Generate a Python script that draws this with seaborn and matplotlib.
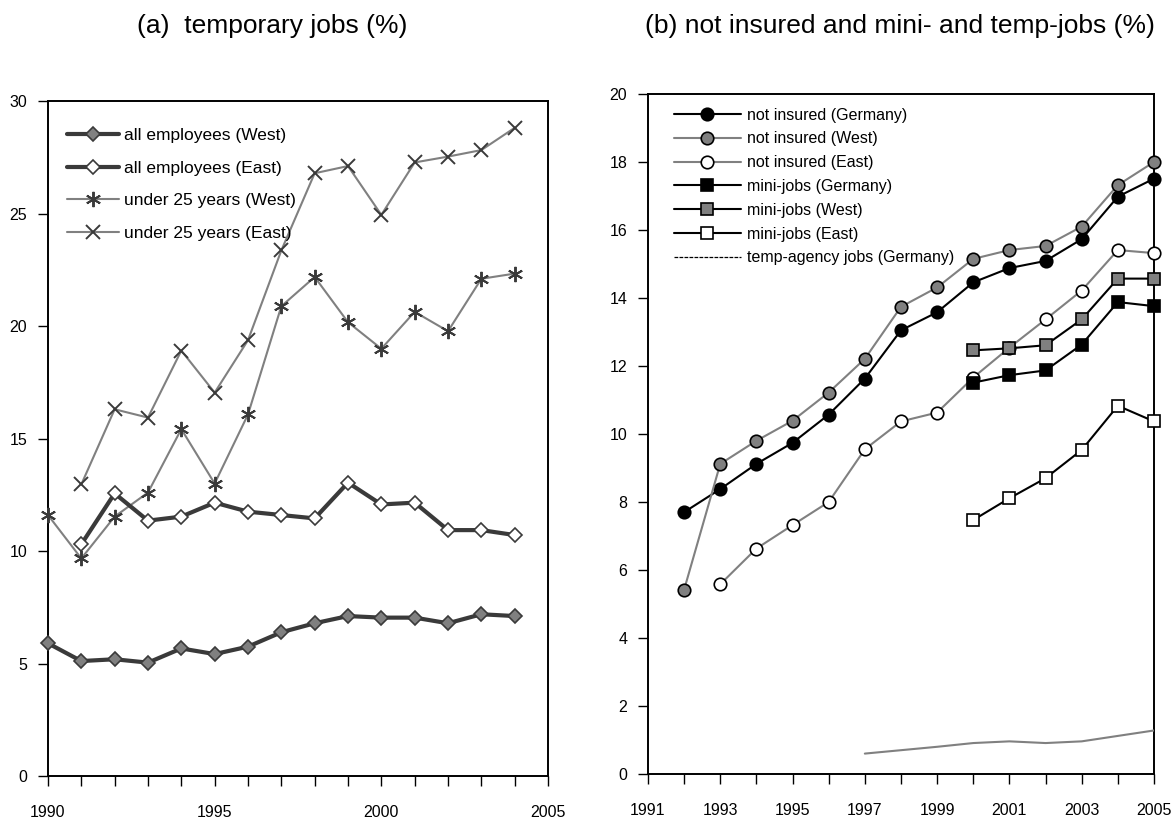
import numpy as np
import matplotlib
matplotlib.use("Agg")
import matplotlib.pyplot as plt
from matplotlib.lines import Line2D
import seaborn as sns

# panel (a): temporary jobs (%)
years_a = list(range(1990, 2005))
years_a_east = list(range(1991, 2005))
all_west = [5.9, 5.11, 5.19, 5.04, 5.67, 5.42, 5.75, 6.39, 6.79, 7.11, 7.04, 7.04, 6.79, 7.19, 7.11]
all_east = [10.3, 12.56, 11.35, 11.53, 12.15, 11.75, 11.6, 11.45, 13.04, 12.07, 12.15, 10.93, 10.93, 10.71]
u25_west = [11.6, 9.67, 11.53, 12.6, 15.42, 13.0, 16.07, 20.88, 22.18, 20.17, 18.99, 20.63, 19.77, 22.1, 22.33]
u25_east = [12.96, 16.3, 15.93, 18.91, 17.04, 19.37, 23.36, 26.79, 27.11, 24.94, 27.27, 27.53, 27.82, 28.81]

# panel (b): not insured, mini-jobs, temp-agency jobs (%)
years_ni = list(range(1992, 2006))
years_ni_east = list(range(1993, 2006))
years_mj = list(range(2000, 2006))
years_temp = list(range(1997, 2006))
ni_germany = [7.70, 8.38, 9.12, 9.74, 10.57, 11.63, 13.05, 13.58, 14.46, 14.88, 15.09, 15.73, 16.98, 17.51]
ni_west = [5.42, 9.12, 9.8, 10.39, 11.22, 12.21, 13.74, 14.31, 15.15, 15.41, 15.53, 16.1, 17.32, 18.0]
ni_east = [5.58, 6.63, 7.32, 8.0, 9.55, 10.37, 10.63, 11.66, 12.54, 13.37, 14.22, 15.41, 15.32]
mj_germany = [11.51, 11.73, 11.87, 12.63, 13.88, 13.76]
mj_west = [12.46, 12.52, 12.61, 13.37, 14.57, 14.57]
mj_east = [7.47, 8.11, 8.70, 9.53, 10.83, 10.37]
temp_agency = [0.6, 0.7, 0.8, 0.91, 0.96, 0.91, 0.96, 1.12, 1.28]

sns.set_style("ticks")
plt.rcParams["font.family"] = ["Liberation Sans", "DejaVu Sans"]
plt.rcParams["text.color"] = "black"

DARK = "#3a3a3a"
GRAY = "#808080"

fig = plt.figure(figsize=(11.73, 8.18), dpi=100)
ax1 = fig.add_axes([0.0409, 0.0513, 0.4263, 0.8252])
ax2 = fig.add_axes([0.5524, 0.0538, 0.4314, 0.8313])

# --- panel (a)
sns.lineplot(x=years_a, y=all_west, ax=ax1, color=DARK, lw=3, marker="D", markersize=7,
             markerfacecolor=GRAY, markeredgecolor=DARK, markeredgewidth=1.2,
             label="all employees (West)", clip_on=False, zorder=4)
sns.lineplot(x=years_a_east, y=all_east, ax=ax1, color=DARK, lw=3, marker="D", markersize=7,
             markerfacecolor="white", markeredgecolor=DARK, markeredgewidth=1.2,
             label="all employees (East)", clip_on=False, zorder=4)
sns.lineplot(x=years_a, y=u25_west, ax=ax1, color=GRAY, lw=1.5, marker=(6, 2, 0), markersize=11,
             markerfacecolor=DARK, markeredgecolor=DARK, markeredgewidth=1.4,
             label="under 25 years (West)", clip_on=False, zorder=3)
sns.lineplot(x=years_a_east, y=u25_east, ax=ax1, color=GRAY, lw=1.5, marker="x", markersize=10,
             markerfacecolor=DARK, markeredgecolor=DARK, markeredgewidth=1.4,
             label="under 25 years (East)", clip_on=False, zorder=3)

ax1.set_xlim(1990, 2005)
ax1.set_ylim(0, 30)
ax1.set_xticks(range(1990, 2006))
ax1.set_xticklabels([str(y) if y % 5 == 0 else "" for y in range(1990, 2006)])
ax1.set_yticks(range(0, 31, 5))
ax1.legend(loc="upper left", bbox_to_anchor=(0.038, 0.96), frameon=False, fontsize=12.5,
           handlelength=3.0, handletextpad=0.3, labelspacing=1.0, borderpad=0, borderaxespad=0)

# --- panel (b)
sns.lineplot(x=years_ni, y=ni_germany, ax=ax2, color="black", lw=1.5, marker="o", markersize=9,
             markerfacecolor="black", markeredgecolor="black", markeredgewidth=1.2,
             label="not insured (Germany)", clip_on=False, zorder=4)
sns.lineplot(x=years_ni, y=ni_west, ax=ax2, color=GRAY, lw=1.5, marker="o", markersize=9,
             markerfacecolor=GRAY, markeredgecolor="black", markeredgewidth=1.2,
             label="not insured (West)", clip_on=False, zorder=4)
sns.lineplot(x=years_ni_east, y=ni_east, ax=ax2, color=GRAY, lw=1.5, marker="o", markersize=9,
             markerfacecolor="white", markeredgecolor="black", markeredgewidth=1.2,
             label="not insured (East)", clip_on=False, zorder=4)
sns.lineplot(x=years_mj, y=mj_germany, ax=ax2, color="black", lw=1.5, marker="s", markersize=9,
             markerfacecolor="black", markeredgecolor="black", markeredgewidth=1.2,
             label="mini-jobs (Germany)", clip_on=False, zorder=5)
sns.lineplot(x=years_mj, y=mj_west, ax=ax2, color="black", lw=1.5, marker="s", markersize=9,
             markerfacecolor=GRAY, markeredgecolor="black", markeredgewidth=1.2,
             label="mini-jobs (West)", clip_on=False, zorder=5)
sns.lineplot(x=years_mj, y=mj_east, ax=ax2, color="black", lw=1.5, marker="s", markersize=9,
             markerfacecolor="white", markeredgecolor="black", markeredgewidth=1.2,
             label="mini-jobs (East)", clip_on=False, zorder=5)
sns.lineplot(x=years_temp, y=temp_agency, ax=ax2, color=GRAY, lw=1.5, label="_temp", zorder=3)

ax2.set_xlim(1991, 2005)
ax2.set_ylim(0, 20)
ax2.set_xticks(range(1991, 2006))
ax2.set_xticklabels([str(y) if y % 2 == 1 else "" for y in range(1991, 2006)])
ax2.set_yticks(range(0, 21, 2))

handles, labels = ax2.get_legend_handles_labels()
handles.append(Line2D([], [], color="black", lw=0.9, ls=(0, (3, 1))))
labels.append("temp-agency jobs (Germany)")
ax2.legend(handles, labels, loc="upper left", bbox_to_anchor=(0.051, 0.98), frameon=False,
           fontsize=11.5, handlelength=4.2, handletextpad=0.4, labelspacing=0.55,
           borderpad=0, borderaxespad=0)

for ax in (ax1, ax2):
    for side in ("top", "right", "left", "bottom"):
        ax.spines[side].set_visible(True)
        ax.spines[side].set_color("black")
        ax.spines[side].set_linewidth(1.4)
    ax.tick_params(axis="both", direction="out", length=7, width=1, color="black",
                   labelsize=11.5, labelcolor="black")
    ax.tick_params(axis="x", pad=14)
    ax.tick_params(axis="y", pad=8)
    ax.grid(False)

fig.text(272 / 1173, 1 - 26 / 818, "(a)  temporary jobs (%)", ha="center", va="center",
         fontsize=19, color="black")
fig.text(900 / 1173, 1 - 26 / 818, "(b) not insured and mini- and temp-jobs (%)",
         ha="center", va="center", fontsize=19, color="black")

fig.savefig("out.png", dpi=100)
